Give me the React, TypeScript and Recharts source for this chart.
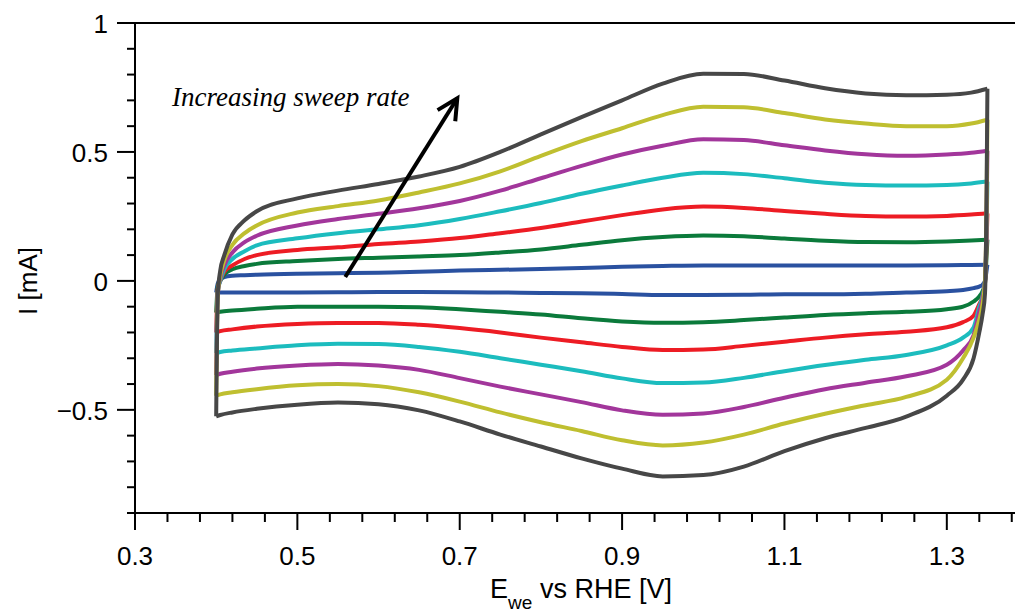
import React from 'react';
import { LineChart, Line, XAxis, YAxis, ReferenceLine, ReferenceDot, Customized } from 'recharts';

// potential grid (V vs RHE) for the anodic and cathodic sweeps
const forwardPotential = [0.4, 0.402, 0.405, 0.41, 0.42, 0.435, 0.45, 0.5, 0.55, 0.6, 0.65, 0.7, 0.75, 0.8, 0.85, 0.9, 0.95, 1.0, 1.05, 1.1, 1.15, 1.2, 1.25, 1.3, 1.33, 1.35];
const reversePotential = [1.349, 1.347, 1.344, 1.34, 1.333, 1.32, 1.3, 1.25, 1.2, 1.15, 1.1, 1.05, 1.0, 0.95, 0.9, 0.85, 0.8, 0.75, 0.7, 0.65, 0.6, 0.55, 0.5, 0.45, 0.42, 0.405, 0.4];

// current (mA), slowest sweep first
const blueForward = [-0.045, -0.01, 0.005, 0.015, 0.02, 0.022, 0.024, 0.028, 0.03, 0.032, 0.035, 0.04, 0.043, 0.046, 0.05, 0.055, 0.058, 0.06, 0.06, 0.06, 0.06, 0.06, 0.06, 0.061, 0.062, 0.063];
const blueReverse = [0.04, 0.0, -0.015, -0.022, -0.028, -0.035, -0.04, -0.045, -0.05, -0.052, -0.052, -0.054, -0.055, -0.055, -0.051, -0.048, -0.047, -0.045, -0.044, -0.043, -0.043, -0.044, -0.045, -0.045, -0.045, -0.045, -0.045];

const greenForward = [-0.123, -0.02, 0.0, 0.025, 0.045, 0.058, 0.066, 0.077, 0.085, 0.09, 0.095, 0.1, 0.11, 0.122, 0.14, 0.158, 0.17, 0.176, 0.173, 0.164, 0.156, 0.151, 0.15, 0.153, 0.157, 0.16];
const greenReverse = [0.1, -0.01, -0.04, -0.06, -0.08, -0.1, -0.11, -0.12, -0.125, -0.132, -0.142, -0.152, -0.16, -0.162, -0.157, -0.145, -0.13, -0.12, -0.11, -0.102, -0.1, -0.1, -0.1, -0.108, -0.115, -0.12, -0.123];

const redForward = [-0.2, -0.03, 0.0, 0.035, 0.06, 0.085, 0.1, 0.12, 0.13, 0.143, 0.153, 0.166, 0.185, 0.205, 0.23, 0.255, 0.277, 0.288, 0.283, 0.271, 0.26, 0.252, 0.25, 0.252, 0.257, 0.262];
const redReverse = [0.15, -0.01, -0.06, -0.09, -0.135, -0.16, -0.18, -0.197, -0.207, -0.22, -0.236, -0.252, -0.266, -0.268, -0.256, -0.238, -0.22, -0.2, -0.183, -0.17, -0.163, -0.163, -0.167, -0.177, -0.188, -0.195, -0.2];

const cyanForward = [-0.28, -0.04, 0.0, 0.045, 0.085, 0.115, 0.138, 0.165, 0.185, 0.2, 0.216, 0.24, 0.27, 0.302, 0.338, 0.37, 0.4, 0.419, 0.414, 0.398, 0.381, 0.372, 0.37, 0.372, 0.378, 0.385];
const cyanReverse = [0.2, 0.0, -0.06, -0.1, -0.18, -0.22, -0.25, -0.287, -0.306, -0.326, -0.35, -0.376, -0.394, -0.396, -0.378, -0.35, -0.325, -0.3, -0.275, -0.256, -0.245, -0.244, -0.25, -0.262, -0.27, -0.276, -0.28];

const purpleForward = [-0.365, -0.05, 0.01, 0.06, 0.11, 0.15, 0.175, 0.215, 0.24, 0.26, 0.282, 0.31, 0.35, 0.398, 0.446, 0.49, 0.524, 0.549, 0.546, 0.526, 0.506, 0.491, 0.485, 0.49, 0.497, 0.505];
const purpleReverse = [0.25, 0.0, -0.07, -0.12, -0.21, -0.27, -0.325, -0.37, -0.395, -0.42, -0.453, -0.489, -0.514, -0.519, -0.502, -0.47, -0.44, -0.41, -0.377, -0.345, -0.328, -0.322, -0.328, -0.34, -0.352, -0.36, -0.365];

const oliveForward = [-0.445, -0.05, 0.02, 0.08, 0.14, 0.185, 0.215, 0.265, 0.29, 0.312, 0.343, 0.378, 0.425, 0.485, 0.542, 0.592, 0.643, 0.675, 0.673, 0.651, 0.626, 0.61, 0.6, 0.6, 0.61, 0.625];
const oliveReverse = [0.3, 0.0, -0.09, -0.15, -0.22, -0.3, -0.383, -0.45, -0.482, -0.515, -0.553, -0.596, -0.627, -0.638, -0.618, -0.582, -0.548, -0.51, -0.468, -0.432, -0.408, -0.4, -0.405, -0.42, -0.432, -0.44, -0.445];

const greyForward = [-0.525, -0.05, 0.04, 0.1, 0.18, 0.235, 0.27, 0.32, 0.35, 0.376, 0.405, 0.442, 0.5, 0.568, 0.635, 0.7, 0.765, 0.803, 0.802, 0.777, 0.747, 0.727, 0.72, 0.722, 0.73, 0.745];
const greyReverse = [0.35, -0.05, -0.13, -0.2, -0.3, -0.383, -0.445, -0.526, -0.57, -0.61, -0.66, -0.72, -0.753, -0.758, -0.728, -0.688, -0.642, -0.596, -0.545, -0.502, -0.478, -0.472, -0.48, -0.496, -0.51, -0.52, -0.525];

const xTicks = [0.3, 0.34, 0.38, 0.42, 0.46, 0.5, 0.54, 0.58, 0.62, 0.66, 0.7, 0.74, 0.78, 0.82, 0.86, 0.9, 0.94, 0.98, 1.02, 1.06, 1.1, 1.14, 1.18, 1.22, 1.26, 1.3, 1.34, 1.38];
const xMajorTicks = [0.3, 0.5, 0.7, 0.9, 1.1, 1.3];
const xTickLabels = ['0.3', '0.5', '0.7', '0.9', '1.1', '1.3'];
const yTicks = [-0.9, -0.8, -0.7, -0.6, -0.5, -0.4, -0.3, -0.2, -0.1, 0, 0.1, 0.2, 0.3, 0.4, 0.5, 0.6, 0.7, 0.8, 0.9, 1];
const yMajorTicks = [-0.5, 0, 0.5, 1];
const yTickLabels = ['\u22120.5', '0', '0.5', '1'];

const sweeps = [
  { key: 'blue', color: '#2a51a0', fwd: blueForward, rev: blueReverse },
  { key: 'green', color: '#0b7a3b', fwd: greenForward, rev: greenReverse },
  { key: 'red', color: '#ed1c24', fwd: redForward, rev: redReverse },
  { key: 'cyan', color: '#1cbcbe', fwd: cyanForward, rev: cyanReverse },
  { key: 'purple', color: '#a2369b', fwd: purpleForward, rev: purpleReverse },
  { key: 'olive', color: '#bfbf30', fwd: oliveForward, rev: oliveReverse },
  { key: 'grey', color: '#474747', fwd: greyForward, rev: greyReverse },
];

// anodic branch, x increasing
const forwardBranch = (fwd: number[]) => forwardPotential.map((E, i) => ({ E, I: fwd[i] }));
// cathodic branch, starts where the anodic one ends so the loop stays closed
const reverseBranch = (fwd: number[], rev: number[]) => [
  { E: forwardPotential[forwardPotential.length - 1], I: fwd[fwd.length - 1] },
  ...reversePotential.map((E, i) => ({ E, I: rev[i] })),
];

const FONT = '"Liberation Sans", Arial, Helvetica, sans-serif';

const majorIndex = (v: number, majors: number[]) => majors.findIndex(m => Math.abs(m - v) < 1e-6);

const XTick = (props: any) => {
  const { x, y, payload } = props;
  const idx = majorIndex(payload.value, xMajorTicks);
  return (
    <g>
      <line x1={x} y1={y} x2={x} y2={y + (idx >= 0 ? 17 : 9)} stroke="#000" strokeWidth={2} />
      {idx >= 0 && (
        <text x={x} y={y + 52} textAnchor="middle" fontSize={26} fontFamily={FONT} fill="#000">
          {xTickLabels[idx]}
        </text>
      )}
    </g>
  );
};

const YTick = (props: any) => {
  const { x, y, payload } = props;
  const idx = majorIndex(payload.value, yMajorTicks);
  return (
    <g>
      <line x1={x - (idx >= 0 ? 18 : 8)} y1={y} x2={x} y2={y} stroke="#000" strokeWidth={2} />
      {idx >= 0 && (
        <text x={x - 27} y={y + 10} textAnchor="end" fontSize={26} fontFamily={FONT} fill="#000">
          {yTickLabels[idx]}
        </text>
      )}
    </g>
  );
};

const Arrow = (props: any) => {
  const { x1, y1, x2, y2 } = props;
  const ang = Math.atan2(y1 - y2, x1 - x2);
  const len = 23;
  const spread = (27 * Math.PI) / 180;
  const ax = x2 + len * Math.cos(ang + spread);
  const ay = y2 + len * Math.sin(ang + spread);
  const bx = x2 + len * Math.cos(ang - spread);
  const by = y2 + len * Math.sin(ang - spread);
  return (
    <g>
      <line x1={x1} y1={y1} x2={x2} y2={y2} stroke="#000" strokeWidth={4} />
      <polyline points={`${ax},${ay} ${x2},${y2} ${bx},${by}`} fill="none" stroke="#000" strokeWidth={4} strokeLinejoin="miter" />
    </g>
  );
};

const Note = (props: any) => (
  <text x={props.cx} y={props.cy} fontSize={27} fontStyle="italic" fontFamily='"Liberation Serif", "Times New Roman", serif' fill="#000">
    Increasing sweep rate
  </text>
);

const AxisTitles = () => (
  <g>
    <text x={573} y={590} textAnchor="middle" fontSize={27} fontFamily={FONT} fill="#000">
      E<tspan dy={11} fontSize={19}>we</tspan>
      <tspan dy={-11}> vs RHE [V]</tspan>
    </text>
    <text x={29} y={273} transform="rotate(-90 29 273)" textAnchor="middle" fontSize={26} fontFamily={FONT} fill="#000">
      I [mA]
    </text>
  </g>
);

export default function App() {
  return (
    <div style={{ width: 1015, height: 604, overflow: 'hidden' }}>
      <LineChart width={1040} height={604} margin={{ top: 15, right: 20, bottom: 0, left: 0 }}>
        <XAxis
          type="number"
          dataKey="E"
          domain={[0.3, 1.4]}
          ticks={xTicks}
          interval={0}
          tick={<XTick />}
          tickLine={false}
          tickSize={0}
          tickMargin={0}
          height={99}
          axisLine={{ stroke: '#000', strokeWidth: 2 }}
          allowDataOverflow
        />
        <YAxis
          type="number"
          domain={[-0.9, 1]}
          ticks={yTicks}
          interval={0}
          tick={<YTick />}
          tickLine={false}
          tickSize={0}
          tickMargin={0}
          width={127}
          axisLine={{ stroke: '#000', strokeWidth: 2 }}
          allowDataOverflow
        />
        <ReferenceLine y={1} stroke="#000" strokeWidth={2} />
        {sweeps.flatMap(s => [
          <Line
            key={`${s.key}-rev`}
            data={reverseBranch(s.fwd, s.rev)}
            dataKey="I"
            type="monotone"
            stroke={s.color}
            strokeWidth={4}
            dot={false}
            activeDot={false}
            isAnimationActive={false}
          />,
          <Line
            key={`${s.key}-fwd`}
            data={forwardBranch(s.fwd)}
            dataKey="I"
            type="monotone"
            stroke={s.color}
            strokeWidth={4}
            dot={false}
            activeDot={false}
            isAnimationActive={false}
          />,
        ])}
        <ReferenceLine
          segment={[{ x: 0.559, y: 0.015 }, { x: 0.697, y: 0.708 }]}
          shape={<Arrow />}
        />
        <ReferenceDot x={0.3456} y={0.68} r={0} shape={<Note />} />
        <Customized component={AxisTitles} />
      </LineChart>
    </div>
  );
}
